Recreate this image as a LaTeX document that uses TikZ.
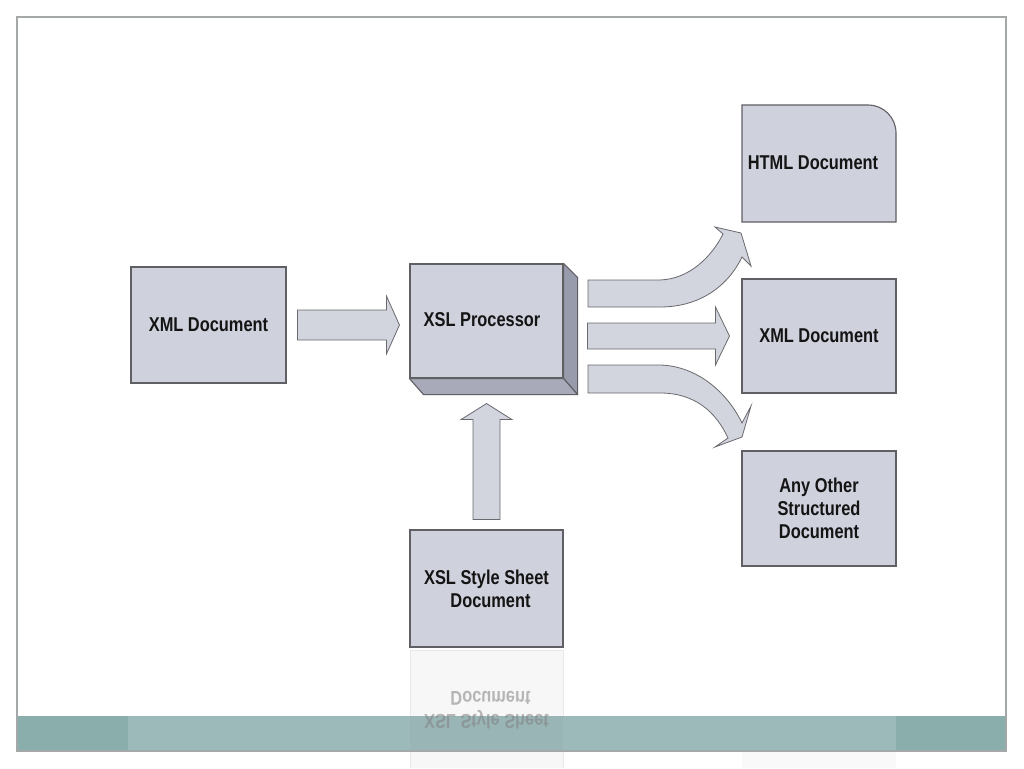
\documentclass[tikz,border=0pt]{standalone}
\usepackage{fontspec}
\setmainfont{Liberation Sans}[FakeStretch=0.82]
\usetikzlibrary{calc}
\definecolor{boxfill}{RGB}{207,209,221}
\definecolor{boxline}{RGB}{95,95,100}
\definecolor{arrfill}{RGB}{210,212,222}
\definecolor{arrline}{RGB}{105,105,110}
\definecolor{sideface}{RGB}{152,155,172}
\definecolor{bottomface}{RGB}{168,170,186}
\definecolor{framecol}{RGB}{165,168,168}
\definecolor{banddark}{RGB}{132,170,168}
\definecolor{bandlight}{RGB}{160,188,189}
\definecolor{txt}{RGB}{20,20,20}
\tikzset{
  docbox/.style={draw=boxline, fill=boxfill, line width=1.1pt, minimum width=154pt,
    minimum height=116pt, inner sep=0pt, align=center,
    font=\bfseries\fontsize{20}{23}\selectfont, text=txt},
  doctext/.style={inner sep=0pt, align=center, font=\bfseries\fontsize{20}{23}\selectfont, text=txt},
  blockarrow/.style={draw=arrline, fill=arrfill, line width=0.8pt, line join=miter},
  faceshape/.style={draw=boxline, line width=1.1pt, line join=round},
}
\begin{document}
\begin{tikzpicture}[x=1pt,y=-1pt]
\useasboundingbox (0,0) rectangle (1024,768);
\fill[white] (0,0) rectangle (1024,768);

% reflections (faint)
\fill[gray!6] (410,650) rectangle (563,768);
\draw[gray!18, line width=1pt] (410,768) -- (410,650) -- (563,650) -- (563,768);
\fill[gray!5] (742,732) rectangle (896,768);

% bottom band
\fill[banddark, opacity=0.95] (17,716) rectangle (1006,751);
\fill[bandlight, opacity=0.9] (128,716) rectangle (896,751);
\fill[gray, opacity=0.08] (410,716) rectangle (563,751);
\node[doctext, text=gray, opacity=0.55, yscale=-1, transform shape] (refl) at (486.5,710.5)
  {XSL Style Sheet\\ \hspace*{8pt}Document};

% frame
\draw[framecol, line width=1.5pt] (17,17) rectangle (1006,751);

% nodes
\node[docbox, minimum width=155pt] (xmlL) at (208.5,325) {XML Document};

\node[docbox, minimum width=153pt, minimum height=114pt] (proc) at (486.5,321) {};
\filldraw[faceshape, fill=sideface] (proc.north east) -- ++(14,14) -- ($(proc.south east)+(14,16)$) -- (proc.south east) -- cycle;
\filldraw[faceshape, fill=bottomface] (proc.south west) -- ++(14,16) -- ($(proc.south east)+(14,16)$) -- (proc.south east) -- cycle;
\node[doctext] (proctext) at (482,320) {XSL Processor};

\node[docbox, minimum width=153pt, minimum height=117pt] (sty) at (486.5,588.5)
  {XSL Style Sheet\\ \hspace*{8pt}Document};

\filldraw[boxline, fill=boxfill, line width=1.1pt]
  (742,222) -- (742,105) -- (868,105) .. controls (883.5,105) and (896,117.5) .. (896,133) -- (896,222) -- cycle;
\node[doctext] (html) at (813,163) {HTML Document};

\node[docbox, minimum height=114pt] (xmlR) at (819,336) {XML Document};
\node[docbox, minimum height=115pt] (other) at (819,508.5)
  {Any Other\\Structured\\ Document};

% connectors (block arrows)
\path ($(xmlL.east)+(11,0)$) coordinate (a1s) ($(xmlL.east -| proc.west)+(-10,0)$) coordinate (a1t);
\draw[blockarrow] ($(a1s)+(0,-15)$) -- ($(a1t)+(-13,-15)$) -- ($(a1t)+(-13,-29)$) -- (a1t)
  -- ($(a1t)+(-13,29)$) -- ($(a1t)+(-13,15)$) -- ($(a1s)+(0,15)$) -- cycle;

\path ($(sty.north)+(0,-10)$) coordinate (a2s) ($(proc.south)+(0,25)$) coordinate (a2t);
\draw[blockarrow] ($(a2s)+(-13.5,0)$) -- ($(a2t)+(-13.5,16)$) -- ($(a2t)+(-25.5,16)$) -- (a2t)
  -- ($(a2t)+(25.5,16)$) -- ($(a2t)+(13.5,16)$) -- ($(a2s)+(13.5,0)$) -- cycle;

\path ($(xmlR.west)+(-154,0)$) coordinate (a3s) ($(xmlR.west)+(-12,0)$) coordinate (a3t);
\draw[blockarrow] ($(a3s)+(0,-13)$) -- ($(a3t)+(-14,-13)$) -- ($(a3t)+(-14,-29)$) -- (a3t)
  -- ($(a3t)+(-14,29)$) -- ($(a3t)+(-14,13)$) -- ($(a3s)+(0,13)$) -- cycle;

\coordinate (a4s) at (588,293.5);
\draw[blockarrow] (588,280) -- (660,280) .. controls (690,279) and (712,256) .. (723,234)
  -- (715,227) -- (741,233) -- (751,266) -- (742,257)
  .. controls (728,286) and (700,307) .. (660,307) -- (588,307) -- cycle;

\coordinate (a5s) at (588,379);
\draw[blockarrow] (588,365) -- (660,365) .. controls (697,366) and (727,392) .. (742,423)
  -- (751,406) -- (742,437) -- (715,447) -- (728,438)
  .. controls (716,412) and (695,393) .. (660,393) -- (588,393) -- cycle;
\end{tikzpicture}
\end{document}
